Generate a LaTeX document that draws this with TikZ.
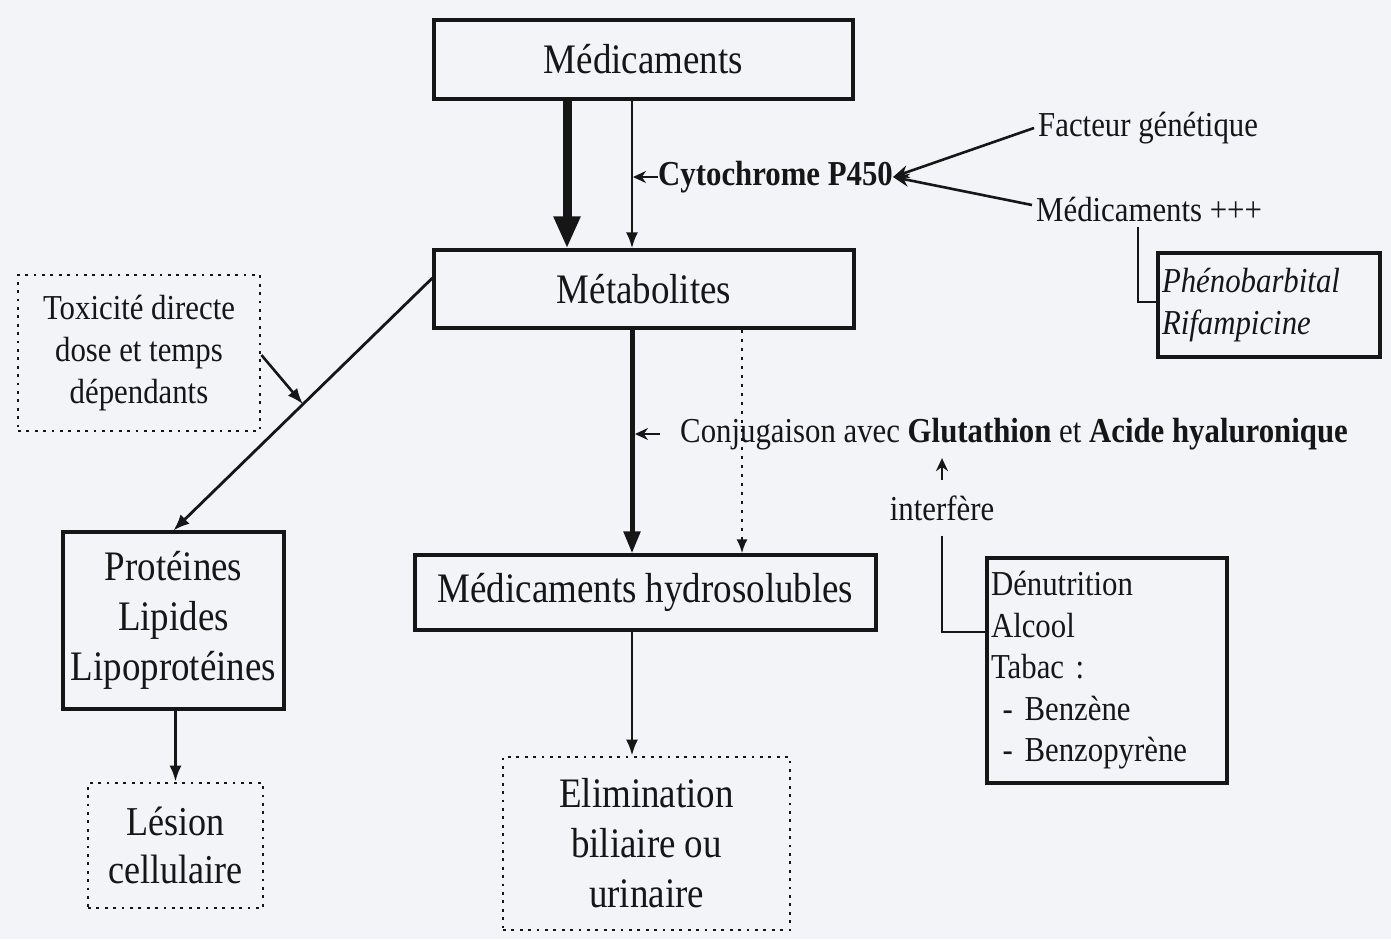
\documentclass[tikz,border=0pt]{standalone}
\usepackage{fontspec}
\setmainfont{Liberation Serif}[FakeStretch=0.88]
\usetikzlibrary{arrows.meta,calc}
\definecolor{bgc}{HTML}{F3F4F8}
\definecolor{ink}{HTML}{161616}
\begin{document}
\begin{tikzpicture}[x=1pt,y=-1pt,
  box/.style={draw=ink,line width=3.2pt,inner sep=0pt,align=center,text=ink},
  dotbox/.style={box,line width=2.8pt,dash pattern=on 2.8pt off 5.6pt},
  bigf/.style={font=\fontsize{42}{50}\selectfont},
  lesf/.style={font=\fontsize{41}{48}\selectfont},
  smallf/.style={font=\fontsize{35}{42}\selectfont},
  lbl/.style={text=ink,inner sep=0pt},
  tarr/.style={draw=ink,line width=2.6pt,-{Latex[length=16pt,width=12pt]}},
  sarr/.style={draw=ink,line width=2.6pt,-{Stealth[length=13pt,width=12pt]}},
  thick1/.style={draw=ink,line width=9pt,-{Triangle[length=32pt,width=25pt]}},
  thick2/.style={draw=ink,line width=5pt,-{Triangle[length=22pt,width=16pt]}},
  plain/.style={draw=ink,line width=2.8pt}
]
\fill[bgc] (0,0) rectangle (1391,939);
\useasboundingbox (0,0) rectangle (1391,939);

\coordinate (xa) at (632,0);
\coordinate (xt) at (567,0);
\coordinate (xd) at (742,0);
\coordinate (xb) at (1138,0);

% boxes
\node[box,bigf,minimum width=419pt,minimum height=79pt] (med) at (643.5,59.5) {Médicaments};
\node[box,bigf,minimum width=420pt,minimum height=78pt] (met) at (644,289) {Métabolites};
\node[dotbox,smallf,minimum width=242pt,minimum height=156pt] (tox) at (139,353) {Toxicité directe\\dose et temps\\dépendants};
\node[box,bigf,minimum width=221pt,minimum height=177pt] (prot) at (173.5,620.5) {Protéines\\Lipides\\Lipoprotéines};
\node[dotbox,lesf,minimum width=175pt,minimum height=125pt] (les) at (175.5,845.5) {Lésion\\cellulaire};
\node[box,bigf,minimum width=461pt,minimum height=75pt] (hyd) at (645.5,592.5) {Médicaments hydrosolubles};
\node[dotbox,bigf,minimum width=287pt,minimum height=173pt] (elim) at (646.5,843.5) {Elimination\\biliaire ou\\urinaire};
\node[box,smallf,align=left,text width=214pt,inner xsep=4pt,minimum height=104pt] (phen) at (1269,305) {\itshape Phénobarbital\\\itshape Rifampicine};
\node[box,smallf,align=left,text width=232pt,inner xsep=4pt,minimum height=225pt,font=\fontsize{35}{41.5}\selectfont] (den) at (1107,670.5) {Dénutrition\\Alcool\\Tabac :\\\ - Benzène\\\ - Benzopyrène};

% labels
\node[lbl,smallf,anchor=west,font=\fontsize{35}{42}\selectfont\bfseries] (cyt) at (658,177) {Cytochrome P450};
\node[lbl,smallf,anchor=west,inner sep=4pt] (fac) at (1034,128) {Facteur génétique};
\node[lbl,smallf,anchor=west,inner sep=4pt] (med2) at (1032,210) {Médicaments +++};
\node[lbl,smallf,anchor=west] (conj) at (680,434) {Conjugaison avec \textbf{Glutathion} et \textbf{Acide hyaluronique}};
\node[lbl,smallf] (interf) at (942,508) {interfère};

% connectors
\draw[thick1] (med.south -| xt) -- (met.north -| xt);
\draw[tarr] (med.south -| xa) -- (met.north -| xa);
\draw[sarr,shorten >=1pt] (cyt.west) -- (cyt.west -| xa);
\draw[sarr,-{Stealth[length=16pt,width=13pt]}] (fac.west) -- (cyt.east);
\draw[sarr,-{Stealth[length=16pt,width=13pt]}] ([yshift=5pt]med2.west) -- (cyt.east);
\draw[plain] (med2.south -| xb) |- ([yshift=3pt]phen.west);

\draw[plain,-{Latex[length=16pt,width=13pt]}] ([yshift=11pt]met.west) -- (prot.north) coordinate[pos=0.5] (tx);
\draw[tarr] ([yshift=-2pt]tox.east) -- (tx);

\draw[thick2] (met.south -| xa) -- (hyd.north -| xa);
\draw[draw=ink,line width=2.4pt,dash pattern=on 3pt off 6pt,-{Latex[length=14pt,width=11pt]}] (met.south -| xd) -- (hyd.north -| xd);
\draw[sarr,shorten >=3pt] ([xshift=-20pt]conj.west) -- (conj.west -| xa);

\draw[sarr] ([yshift=15pt]interf.north) -- ([yshift=-8pt]interf.north |- conj.south);
\draw[plain] ([yshift=-15pt]interf.south) |- ([yshift=38.5pt]den.west);

\draw[tarr] (prot.south -| les.north) -- (les.north);
\draw[tarr] (hyd.south -| xa) -- (elim.north -| xa);
\end{tikzpicture}
\end{document}
